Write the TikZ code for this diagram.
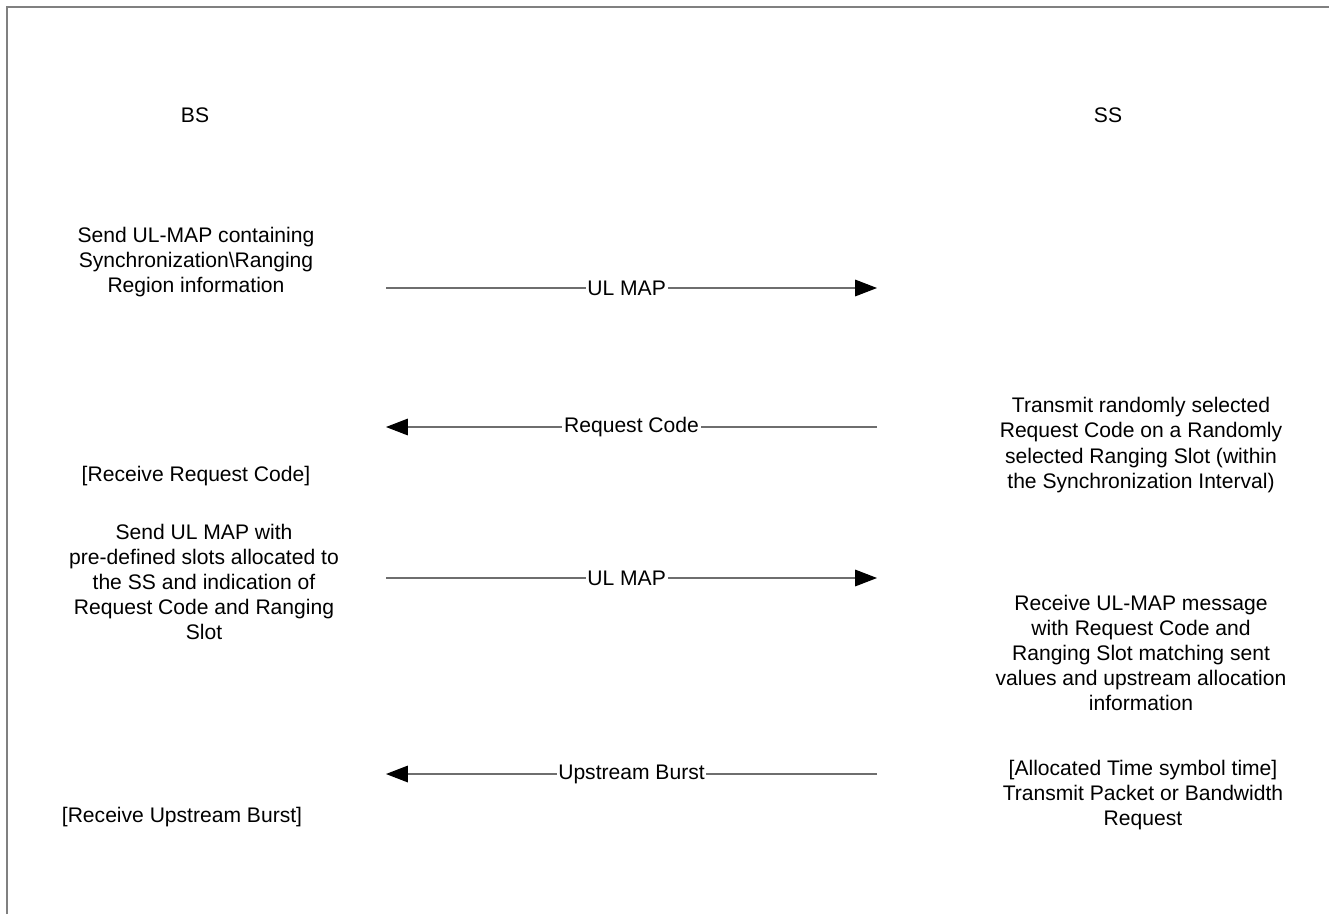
\documentclass[tikz,border=0pt]{standalone}
\usepackage{fontspec}
\setmainfont{Liberation Sans}
\usetikzlibrary{arrows.meta}

\definecolor{framegray}{RGB}{128,128,128}
\definecolor{linegray}{RGB}{110,110,110}

\tikzset{
  step text/.style={align=center, inner sep=0pt, font=\fontsize{12}{14.3}\selectfont},
  msg/.style={draw=linegray, line width=0.6pt, -{Triangle[length=12.5pt, width=9.5pt, color=black]}},
  msg label/.style={fill=white, inner sep=1pt, font=\fontsize{12}{14.3}\selectfont}
}

\begin{document}
\begin{tikzpicture}[x=0.02cm, y=-0.02cm]

\useasboundingbox (0,0) rectangle (1329,914);

% Draw the frame
\draw[framegray, line width=0.9pt] (7,914) -- (7,7) -- (1329,7);

% Draw the two sides
\node[step text] (bs) at (195,115) {BS};
\node[step text] (ss) at (1108,115) {SS};

% BS actions
\node[step text] (sendmap) at (196,262) {Send UL-MAP containing\\Synchronization\textbackslash Ranging\\Region information};
\node[step text] (rxcode) at (196,476) {[Receive Request Code]};
\node[step text] (sendslots) at (204,582) {Send UL MAP with\\pre-defined slots allocated to\\the SS and indication of\\Request Code and Ranging\\Slot};
\node[step text] (rxburst) at (182,817) {[Receive Upstream Burst]};

% SS actions
\node[step text] (txcode) at (1141,445) {Transmit randomly selected\\Request Code on a Randomly\\selected Ranging Slot (within\\the Synchronization Interval)};
\node[step text] (rxmap) at (1141,653) {Receive UL-MAP message\\with Request Code and\\Ranging Slot matching sent\\values and upstream allocation\\information};
\node[step text] (txburst) at (1143,795) {[Allocated Time symbol time]\\Transmit Packet or Bandwidth\\Request};

% Message ends
\coordinate (m1l) at (386,288); \coordinate (m1r) at (877,288);
\coordinate (m2l) at (386,427); \coordinate (m2r) at (877,427);
\coordinate (m3l) at (386,578); \coordinate (m3r) at (877,578);
\coordinate (m4l) at (386,774); \coordinate (m4r) at (877,774);

% Draw the messages
\draw[msg] (m1l) -- node[msg label, pos=0.49] {UL MAP} (m1r);
\draw[msg] (m2r) -- node[msg label, pos=0.5] {Request Code} (m2l);
\draw[msg] (m3l) -- node[msg label, pos=0.49] {UL MAP} (m3r);
\draw[msg] (m4r) -- node[msg label, pos=0.5] {Upstream Burst} (m4l);

\end{tikzpicture}
\end{document}
